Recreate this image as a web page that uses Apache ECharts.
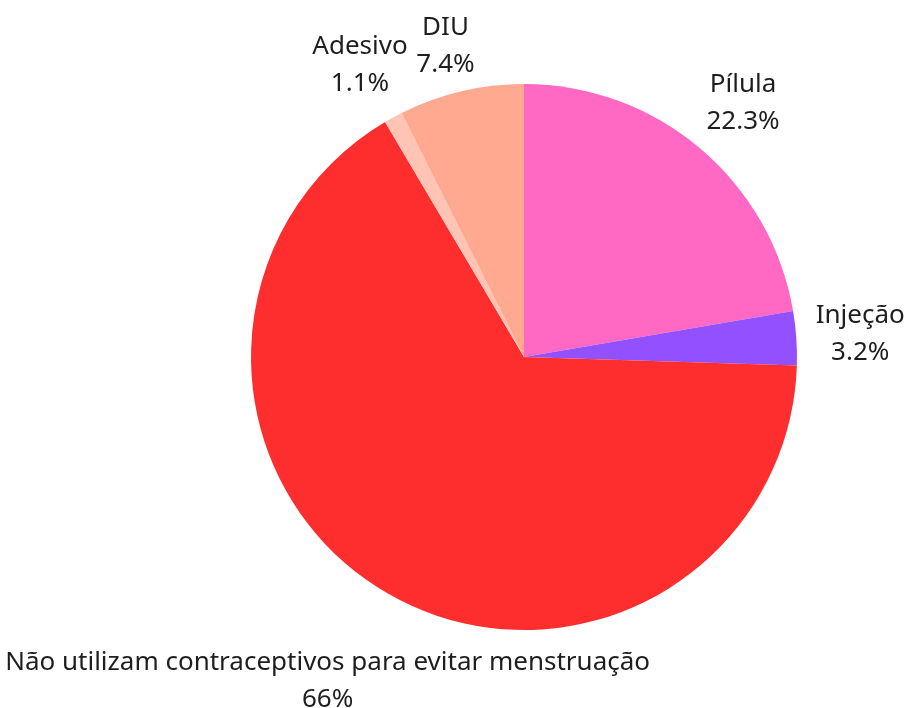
<!DOCTYPE html>
<html>
<head>
<meta charset="utf-8">
<script src="https://cdn.jsdelivr.net/npm/echarts@6/dist/echarts.min.js"></script>
<style>
  html, body { margin: 0; padding: 0; background: #fff; }
  #chart { width: 905px; height: 708px; }
</style>
</head>
<body>
<div id="chart"></div>
<script>
// dados da pizza
const categories = ['Pílula', 'Injeção', 'Não utilizam contraceptivos para evitar menstruação', 'Adesivo', 'DIU']
const values = [22.3, 3.2, 66, 1.1, 7.4]
const colors = ['#ff69c4', '#9350ff', '#ff2e2e', '#ffc4b4', '#ffaa90']
// distância do rótulo até a borda da pizza
const labelDist = [59, 59, 103, 59, 46]

const chart = echarts.init(document.getElementById('chart'))

const seriesData = categories.map((name, i) => ({
  name: name,
  value: values[i],
  itemStyle: { color: colors[i] },
  labelLine: { show: false, length: labelDist[i], length2: 0 }
}))

chart.setOption({
  animation: false,
  series: [{
    type: 'pie',
    center: [524, 357],
    radius: 273,
    startAngle: 90,
    clockwise: true,
    avoidLabelOverlap: false,
    data: seriesData,
    label: {
      show: true,
      position: 'outside',
      formatter: p => p.name + '\n' + p.value + '%',
      fontFamily: 'Noto Sans',
      fontSize: 26,
      lineHeight: 37,
      color: '#1e1e1e',
      align: 'center'
    },
    labelLine: { show: false },
    labelLayout: function () {
      return { align: 'center', verticalAlign: 'middle' }
    }
  }]
})
</script>
</body>
</html>
